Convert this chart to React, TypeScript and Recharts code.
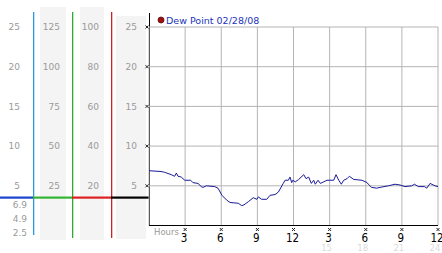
import React from "react";
import { LineChart, Line, XAxis, YAxis, CartesianGrid, Legend } from "recharts";

// dew point readings, hour of day -> value
const hours = [
  0, 1.0, 1.3, 1.85, 2.13, 2.27, 2.41, 2.68, 2.97, 3.46, 3.65, 4.07, 4.34, 4.49, 4.76, 5.46, 5.73,
  6.06, 6.45, 6.73, 7.42, 7.7, 7.89, 8.25, 8.66, 8.95, 9.08, 9.36, 9.78, 10.05, 10.47, 10.74, 11.15,
  11.3, 11.57, 11.71, 11.85, 11.94, 12.15, 12.43, 12.85, 13.04, 13.26, 13.48, 13.68, 13.81, 14.04,
  14.23, 14.51, 14.78, 15.34, 15.53, 15.76, 15.97, 16.17, 16.45, 16.64, 17.0, 17.69, 18.11, 18.21,
  18.49, 18.91, 19.19, 19.88, 20.43, 20.85, 21.26, 21.82, 22.04, 22.37, 22.87, 23.07, 23.34, 23.75, 24,
];
const dewPoint = [
  6.9, 6.8, 6.7, 6.4, 6.2, 6.6, 6.2, 6.1, 5.7, 5.7, 5.4, 5.3, 4.9, 4.8, 5.0, 4.9, 4.7,
  3.8, 3.2, 2.9, 2.8, 2.5, 2.6, 3.0, 3.5, 3.3, 3.6, 3.3, 3.3, 3.8, 3.9, 4.2, 5.3,
  5.7, 5.7, 6.1, 5.4, 5.7, 5.5, 5.8, 6.4, 5.9, 6.1, 5.3, 5.7, 5.2, 5.7,
  5.3, 5.5, 5.7, 5.7, 6.4, 5.7, 5.2, 5.7, 5.9, 6.2, 5.8, 5.7, 5.4, 5.2,
  4.8, 4.7, 4.8, 5.0, 5.2, 5.1, 4.9, 5.0, 5.2, 4.9, 4.9, 4.7, 5.3, 5.0, 4.9,
];

const hourTicks = [3, 6, 9, 12, 15, 18, 21, 24];
const mainTicks = [5, 10, 15, 20, 25];
const col1Ticks = [5, 10, 15, 20, 25];
const col2Ticks = [25, 50, 75, 100, 125];
const col3Ticks = [20, 40, 60, 80, 100];
const stats = ["6.9", "4.9", "2.5"];
const legendLabel = "Dew Point 02/28/08";

const data = hours.map((h, i) => ({ h, v: dewPoint[i] }));

const FONT = "'DejaVu Sans', Verdana, sans-serif";

const Mark = ({ cx, cy }: { cx: number; cy: number }) => (
  <path
    d={`M${cx - 1.5},${cy - 1.5}L${cx + 1.5},${cy + 1.5}M${cx + 1.5},${cy - 1.5}L${cx - 1.5},${cy + 1.5}`}
    stroke="#222"
    strokeWidth={1}
  />
);

const YTick = (props: any) => {
  const { x, y, payload, mark } = props;
  return (
    <g>
      <text x={x} y={y} dy={3.3} textAnchor="end" fill="#9a9a9a" fontSize={9} fontFamily={FONT}>
        {payload.value}
      </text>
      {mark && <Mark cx={x + 10} cy={y} />}
    </g>
  );
};

const XTick = (props: any) => {
  const { x, y, payload } = props;
  const h = payload.value as number;
  const h12 = h > 12 ? h - 12 : h;
  return (
    <g>
      <Mark cx={x} cy={y + 4} />
      <text x={x - 1} y={y + 16} textAnchor="middle" fill="#000" fontSize={11.5} fontFamily="'Liberation Sans Narrow', 'DejaVu Sans Condensed', 'Liberation Sans', sans-serif">
        {h12}
      </text>
      {h > 12 && (
        <text x={x - 3} y={y + 25.5} textAnchor="middle" fill="#dadada" fontSize={8.5} fontFamily={FONT}>
          {h}
        </text>
      )}
    </g>
  );
};

const HoursLabel = (props: any) => {
  const { x, y } = props.viewBox;
  return (
    <text x={x + 5} y={y + 9.5} fill="#9a9a9a" fontSize={8.5} fontFamily={FONT}>
      Hours
    </text>
  );
};

const LegendContent = () => (
  <svg width={120} height={14} style={{ display: "block" }}>
    <circle cx={6} cy={8} r={3} fill="#a01010" stroke="#5a0a0a" strokeWidth={0.8} />
    <text x={11} y={11.7} fill="#2233bb" fontSize={9.5} fontFamily={FONT}>
      {legendLabel}
    </text>
  </svg>
);

const Backdrop = () => (
  <svg width={442} height={253} style={{ position: "absolute", left: 0, top: 0 }}>
    <rect x={40} y={7} width={26} height={233} fill="#f4f4f4" />
    <rect x={80} y={7} width={24} height={233} fill="#f4f4f4" />
    <rect x={116} y={16} width={30} height={223} fill="#f4f4f4" />
    <rect x={33} y={12} width={1.3} height={223} fill="#2a9be0" />
    <rect x={72} y={12} width={1.3} height={226} fill="#2faa2f" />
    <rect x={111} y={12} width={1.3} height={226} fill="#cc2222" />
    <rect x={149} y={13} width={1} height={212} fill="#000" />
    <rect x={0} y={196.5} width={33} height={2.2} fill="#1a44cc" />
    <rect x={33} y={196.5} width={39} height={2.2} fill="#33b533" />
    <rect x={72} y={196.5} width={39} height={2.2} fill="#dd2020" />
    <rect x={111} y={196.5} width={38} height={2.2} fill="#000" />
    {stats.map((s, i) => (
      <text key={s + i} x={27} y={208 + i * 14} textAnchor="end" fill="#9a9a9a" fontSize={9} fontFamily={FONT}>
        {s}
      </text>
    ))}
  </svg>
);

export default function App() {
  return (
    <div style={{ position: "absolute", left: 0, top: 0, width: 442, height: 253, background: "#fff" }}>
      <Backdrop />
      <div style={{ position: "absolute", left: 0, top: 0 }}>
        <LineChart width={442} height={253} data={data} margin={{ top: 27, right: 4, bottom: 0, left: 0 }}>
          <CartesianGrid stroke="#b4b4b4" />
          <XAxis
            dataKey="h"
            type="number"
            domain={[0, 24]}
            ticks={hourTicks}
            height={27.5}
            axisLine={{ stroke: "#000" }}
            tickLine={false}
            tickSize={0}
            tickMargin={0}
            interval={0}
            tick={(p: any) => <XTick {...p} />}
            label={(p: any) => <HoursLabel {...p} />}
          />
          <YAxis
            domain={[0, 25]}
            ticks={mainTicks}
            width={38}
            axisLine={false}
            tickLine={false}
            tickSize={0}
            tickMargin={12}
            interval={0}
            allowDataOverflow
            tick={(p: any) => <YTick {...p} mark />}
          />
          <YAxis
            yAxisId="a3"
            type="number"
            domain={[0, 25]}
            ticks={col1Ticks}
            width={33}
            axisLine={false}
            tickLine={false}
            tickSize={0}
            tickMargin={13}
            interval={0}
            allowDataOverflow
            tick={(p: any) => <YTick {...p} />}
          />
          <YAxis
            yAxisId="a2"
            type="number"
            domain={[0, 125]}
            ticks={col2Ticks}
            width={39}
            axisLine={false}
            tickLine={false}
            tickSize={0}
            tickMargin={12}
            interval={0}
            allowDataOverflow
            tick={(p: any) => <YTick {...p} />}
          />
          <YAxis
            yAxisId="a1"
            type="number"
            domain={[0, 100]}
            ticks={col3Ticks}
            width={39}
            axisLine={false}
            tickLine={false}
            tickSize={0}
            tickMargin={12}
            interval={0}
            allowDataOverflow
            tick={(p: any) => <YTick {...p} />}
          />
          <Legend
            layout="vertical"
            align="center"
            verticalAlign="middle"
            wrapperStyle={{ top: 12, left: 155, width: "auto" }}
            content={() => <LegendContent />}
          />
          <Line
            dataKey="v"
            type="linear"
            stroke="#1a1a99"
            strokeWidth={1}
            dot={false}
            isAnimationActive={false}
          />
        </LineChart>
      </div>
    </div>
  );
}
